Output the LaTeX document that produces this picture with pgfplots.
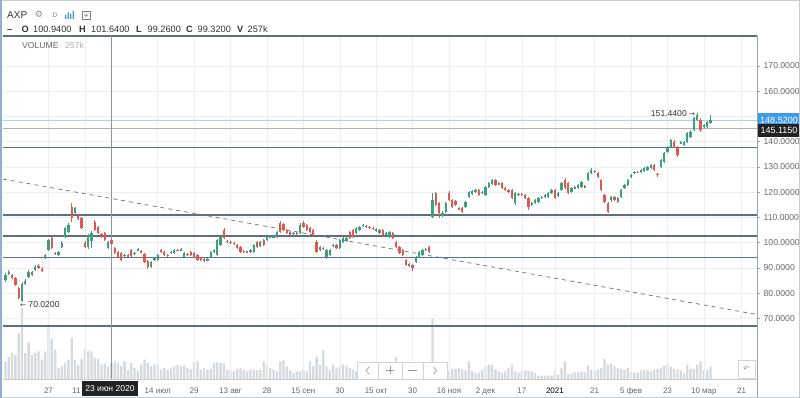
\documentclass[border=0pt]{standalone}
\usepackage{pgfplots}
\pgfplotsset{compat=1.18}
\usepackage{pgfplotstable}
\usepackage{fontspec}
\setmainfont{Liberation Sans}
\newfontfamily\dejavu{DejaVu Sans}
\definecolor{upc}{HTML}{3E9F7D}
\definecolor{downc}{HTML}{DF5A4E}
\definecolor{volc}{HTML}{D5DADF}
\definecolor{gridc}{HTML}{ECEFF2}
\definecolor{hlinec}{HTML}{5C7080}
\definecolor{trendc}{HTML}{6E6E6E}
\definecolor{pblue}{HTML}{A8D4EC}
\definecolor{pgray}{HTML}{B0B0B0}
\definecolor{labc}{HTML}{666666}
\definecolor{axisgray}{HTML}{9AA3AB}
\definecolor{crossc}{HTML}{8C959D}
\definecolor{bluebox}{HTML}{3D9BE9}
\definecolor{blackbox}{HTML}{222222}
\definecolor{navc}{HTML}{CFD4D8}
\definecolor{framec}{HTML}{C5CDD4}
\definecolor{leftc}{HTML}{8FB0D0}
\definecolor{txtc}{HTML}{333333}

\pgfplotstableread{
i o h l c v
-13 85.2 88.0 84.4 87.2 283
-12 87.4 89.2 87.0 88.4 352
-11 87.2 87.6 85.6 86.0 416
-10 86.0 86.4 82.8 83.2 384
-9 82.0 82.4 77.5 78.1 736
-8 76.9 84.4 76.5 83.6 1136
-7 83.6 85.6 83.2 84.8 416
-6 86.4 89.0 85.8 88.4 587
-5 88.4 88.8 86.8 87.2 384
-4 89.2 91.0 88.9 90.2 416
-3 90.6 91.4 89.6 90.2 443
-2 89.6 90.2 88.2 88.6 309
-1 94.0 95.5 93.5 95.1 443
0 97.1 101.5 96.5 101.0 848
1 101.8 102.2 97.5 97.9 640
2 95.9 96.3 95.1 95.5 464
3 95.1 96.8 94.6 96.3 176
4 98.3 100.5 97.9 99.9 203
5 102.2 106.2 101.8 105.8 256
6 104.2 107.6 103.8 107.0 309
7 114.1 115.7 108.2 109.8 656
8 111.8 114.1 111.4 113.7 309
9 110.6 111.2 108.8 109.4 229
10 109.8 110.2 105.4 105.8 320
11 99.9 100.5 97.9 98.3 469
12 98.3 103.6 97.5 103.0 443
13 100.5 104.6 97.9 103.8 443
14 108.2 108.8 104.6 105.0 336
15 106.2 106.6 103.4 103.8 320
16 103.4 104.0 102.0 102.6 229
17 103.8 104.2 100.6 101.0 245
18 97.9 100.8 97.5 100.3 203
19 100.94 101.64 99.26 99.32 257
20 97.9 98.3 95.5 95.9 283
21 96.3 96.7 93.9 94.3 256
22 95.9 96.3 92.7 93.1 203
23 94.7 95.5 94.3 95.1 283
24 95.1 95.5 94.1 94.5 149
25 96.9 97.3 94.1 94.5 256
26 95.5 96.3 95.1 95.9 176
27 96.9 97.7 96.5 97.3 133
28 96.5 96.9 95.7 96.1 229
29 95.5 95.9 91.9 92.3 309
30 92.7 93.1 89.6 90.3 256
31 90.3 92.7 89.9 92.3 203
32 93.1 94.3 92.7 93.9 229
33 93.1 95.5 92.7 95.1 229
34 97.1 97.5 95.9 96.3 149
35 96.3 96.7 94.7 95.1 176
36 95.1 95.5 94.3 94.7 149
37 95.9 96.7 95.5 96.3 176
38 95.9 97.5 95.5 97.1 203
39 97.1 97.5 96.5 96.8 229
40 96.9 97.7 96.5 97.3 203
41 94.3 96.3 93.9 95.9 213
42 95.5 95.9 94.7 95.1 176
43 96.3 96.7 94.7 95.1 160
44 95.9 96.3 93.9 94.3 272
45 95.1 95.5 92.7 93.1 283
46 93.9 94.3 92.7 93.1 149
47 93.5 94.0 92.5 93.1 176
48 93.1 93.9 92.7 93.5 149
49 94.3 96.5 93.9 96.1 160
50 96.1 97.3 95.7 96.9 256
51 95.1 101.4 94.7 101.0 267
52 99.1 102.6 98.7 102.2 256
53 105.0 105.8 101.4 101.8 245
54 100.7 101.0 100.0 100.3 149
55 100.3 100.7 99.5 99.9 149
56 99.9 100.3 99.1 99.5 123
57 99.1 99.5 97.5 97.9 160
58 98.3 98.7 95.9 96.3 176
59 96.7 97.1 95.9 96.3 149
60 96.5 96.7 95.7 96.1 123
61 96.1 97.5 95.7 97.1 149
62 96.3 99.5 95.9 99.1 149
63 100.3 100.7 97.9 98.3 139
64 98.7 100.7 98.3 100.3 149
65 101.0 101.4 98.7 99.1 283
66 101.0 102.6 100.6 102.2 229
67 102.2 102.8 101.8 102.5 176
68 102.2 103.0 101.8 102.6 149
69 102.4 104.6 102.0 104.2 123
70 107.8 108.4 103.8 104.2 283
71 107.4 107.8 104.6 105.0 299
72 105.0 105.4 103.4 103.8 203
73 104.2 104.6 102.6 103.0 139
74 103.6 104.2 103.0 103.9 96
75 103.9 104.2 103.0 103.5 123
76 103.8 107.8 103.4 107.0 123
77 107.8 108.6 105.8 106.2 149
78 107.0 107.4 104.6 105.0 123
79 105.8 106.2 103.8 104.2 283
80 105.0 105.4 102.6 103.0 203
81 100.3 101.0 95.9 96.3 352
82 97.1 98.7 96.7 98.3 229
83 97.9 98.3 97.1 97.5 464
84 94.3 97.5 93.5 97.1 203
85 95.1 97.5 94.7 97.1 149
86 98.7 99.5 98.3 99.1 229
87 99.1 99.5 97.5 97.9 176
88 97.9 101.4 97.5 101.0 203
89 100.3 102.2 99.9 101.8 229
90 100.6 102.4 100.2 102.0 213
91 104.2 104.6 101.4 101.8 176
92 105.0 105.4 101.8 102.2 149
93 103.8 106.2 103.4 105.8 123
94 105.0 106.6 104.6 106.2 160
95 106.6 107.4 106.2 107.0 176
96 106.6 107.0 105.8 106.2 144
97 106.2 106.6 105.4 105.8 160
98 105.8 106.2 105.0 105.4 150
99 105.4 105.8 104.2 104.6 170
100 103.8 105.4 103.4 105.0 160
101 105.0 105.4 102.6 103.0 190
102 103.4 104.2 103.0 103.8 150
103 102.2 104.6 101.8 104.2 180
104 103.8 104.2 101.4 101.8 200
105 100.3 100.7 97.9 98.3 352
106 98.3 98.7 95.5 95.9 220
107 97.1 97.5 94.7 95.1 240
108 93.1 93.5 90.7 91.1 230
109 91.1 92.0 90.3 91.5 190
110 91.1 91.5 88.8 89.9 200
111 92.3 94.7 91.9 94.3 210
112 94.3 96.7 93.9 96.3 180
113 95.1 97.5 94.7 97.1 170
114 97.1 97.9 96.7 97.5 160
115 98.3 98.7 95.9 96.3 190
116 110.2 119.7 109.8 116.9 976
117 119.7 120.1 114.5 114.9 240
118 115.7 116.1 109.8 111.7 208
119 110.6 112.5 110.2 111.7 192
120 112.1 116.1 111.7 115.7 176
121 119.7 120.5 116.5 116.9 123
122 116.9 117.3 113.7 114.1 160
123 116.5 116.9 114.5 114.9 160
124 113.7 114.1 112.9 113.3 176
125 113.7 114.1 111.7 112.1 160
126 114.1 116.5 113.7 116.1 133
127 118.1 120.5 117.7 120.1 283
128 119.3 120.9 118.9 120.5 128
129 120.1 121.2 119.7 120.9 96
130 120.9 121.2 118.5 118.9 101
131 119.7 120.5 119.3 120.1 149
132 118.9 122.4 118.5 122.0 192
133 122.0 124.0 121.6 123.6 229
134 123.2 125.2 122.8 124.8 229
135 124.8 125.2 122.4 122.8 149
136 123.2 124.0 122.8 123.6 123
137 123.6 124.0 121.2 121.6 96
138 121.6 122.0 120.5 120.9 123
139 120.9 121.2 119.7 120.1 176
140 120.9 121.2 117.3 117.7 229
141 115.7 120.1 114.9 119.7 123
142 118.9 119.7 118.5 119.3 107
143 119.3 119.7 118.5 118.9 123
144 118.9 119.3 117.3 117.7 133
145 117.7 118.1 112.9 114.1 133
146 114.9 116.1 114.5 115.7 123
147 115.7 117.3 115.3 116.9 96
148 116.1 118.1 115.7 117.7 53
149 117.7 118.5 117.3 118.1 53
150 118.1 119.3 117.7 118.9 53
151 118.1 120.1 117.7 119.7 53
152 119.7 121.2 119.3 120.9 53
153 120.9 121.2 117.3 117.7 123
154 118.5 120.1 118.1 119.7 69
155 120.9 124.0 120.5 123.6 176
156 124.8 125.6 121.2 121.6 283
157 123.6 124.0 119.3 119.7 85
158 120.1 122.0 119.7 121.6 85
159 121.6 122.4 121.2 122.0 107
160 121.6 123.2 121.2 122.8 107
161 122.0 124.4 121.6 124.0 123
162 122.4 122.8 121.6 122.0 107
163 124.8 128.0 124.4 127.6 213
164 127.6 129.4 127.2 128.8 149
165 128.0 128.8 127.6 128.4 139
166 127.6 128.0 125.6 126.0 149
167 124.8 125.2 120.5 120.9 176
168 118.9 119.3 115.7 116.1 320
169 115.7 116.1 111.7 112.1 229
170 116.9 118.5 116.1 118.1 245
171 118.1 118.5 116.5 116.9 203
172 116.1 118.1 115.7 117.7 176
173 118.1 121.2 117.7 120.9 160
174 121.6 123.2 121.2 122.8 149
175 122.8 125.2 122.4 124.8 176
176 126.0 127.2 125.6 126.8 123
177 127.6 128.4 127.2 128.0 96
178 128.0 128.4 127.4 127.6 107
179 128.0 129.2 127.6 128.8 133
180 128.4 130.0 128.0 129.6 149
181 128.8 130.4 128.4 130.0 139
182 129.6 131.2 129.2 130.8 123
183 130.8 131.2 128.4 128.8 149
184 127.2 127.6 126.0 126.8 160
185 130.0 133.2 129.6 132.8 176
186 132.0 135.9 131.6 135.5 213
187 135.9 138.3 135.5 137.9 245
188 137.9 141.1 137.5 140.7 192
189 139.9 140.7 137.5 137.9 160
190 137.9 138.3 133.9 134.7 149
191 139.3 140.1 138.9 139.7 139
192 138.7 140.3 138.3 139.9 96
193 139.9 143.9 139.5 143.5 229
194 141.9 144.6 141.5 143.9 160
195 144.6 149.8 144.2 149.4 160
196 148.6 151.44 148.2 150.6 229
197 148.6 149.4 143.9 144.6 283
198 145.8 147.2 145.4 146.8 139
199 146.0 148.2 145.6 147.8 149
200 147.4 150.6 147.0 148.52 192
}\candles

\pgfplotsset{candle/.style={only marks, mark=*, mark size=0pt,
  mark options={draw=none, fill=none}, restrict y to domain=0:1000}}

\begin{document}
\begin{tikzpicture}[x=1pt,y=1pt]
\useasboundingbox (0,0) rectangle (800,398);
\fill[white] (0,0) rectangle (800,398);

% ---------- volume pane ----------
\begin{axis}[at={(3pt,19pt)}, anchor=south west, scale only axis,
  width=754pt, height=343pt,
  xmin=-13.746, xmax=214.05, ymin=0, ymax=5488, hide axis, clip=false]
\addplot[ybar, bar width=2.3pt, fill=volc, draw=none] table[x=i,y=v]{\candles};
\end{axis}

% ---------- price pane ----------
\begin{axis}[at={(3pt,19pt)}, anchor=south west, scale only axis,
  width=754pt, height=343pt,
  xmin=-13.746, xmax=214.05, ymin=45.94, ymax=181.89, clip=false,
  axis line style={draw=none},
  ytick={70,80,...,170},
  yticklabels={70.0000,80.0000,90.0000,100.0000,110.0000,120.0000,130.0000,140.0000,150.0000,160.0000,170.0000},
  yticklabel pos=right, ytick pos=right,
  tick align=outside, major tick length=3pt,
  ytick style={draw=axisgray, line width=0.5pt},
  yticklabel style={font=\fontsize{8.6}{10}\selectfont, text=labc, anchor=west, inner sep=0pt, xshift=3.5pt},
  xtick={0,11,33,44,55,66,77,88,99,110,121,132,143,153,165,176,187,198,209.4},
  xticklabels={27,11 июн,14 июл,29,13 авг,28,15 сен,30,15 окт,30,16 ноя,2 дек,17,\textcolor{black}{2021},21,5 фев,23,10 мар,21},
  xtick style={draw=none},
  xticklabel style={font=\fontsize{8}{9.6}\selectfont, text=labc, anchor=base, inner sep=0pt, yshift=-12pt},
  grid=major, grid style={draw=gridc, line width=0.5pt},
]
% drawn horizontal levels
\addplot[hlinec, line width=1.1pt] coordinates {(-13.746,181.89) (214.05,181.89)};
\addplot[hlinec, line width=1.1pt] coordinates {(-13.746,137.78) (214.05,137.78)};
\addplot[hlinec, line width=1.1pt] coordinates {(-13.746,110.95) (214.05,110.95)};
\addplot[hlinec, line width=1.1pt] coordinates {(-13.746,102.62) (214.05,102.62)};
\addplot[hlinec, line width=1.1pt] coordinates {(-13.746,94.18) (214.05,94.18)};
\addplot[hlinec, line width=1.1pt] coordinates {(-13.746,66.95) (214.05,66.95)};
% price lines
\addplot[pblue, line width=0.6pt] coordinates {(-13.746,148.52) (214.05,148.52)};
\addplot[pgray, line width=0.6pt] coordinates {(-13.746,145.115) (214.05,145.115)};
% trend line
\addplot[trendc, line width=0.7pt, dash pattern=on 4pt off 4pt] coordinates {(-13.746,125.2) (214.05,71.5)};
% crosshair
\addplot[crossc, line width=0.6pt] coordinates {(19,45.94) (19,181.89)};

% wicks
\addplot[candle,
  error bars/.cd, y dir=both, y explicit, error mark=none,
  error bar style={line width=0.7pt, draw=upc}]
  table[x=i, y expr={\thisrow{c}>=\thisrow{o} ? (\thisrow{h}+\thisrow{l})/2 : -1000},
        y error expr={(\thisrow{h}-\thisrow{l})/2}]{\candles};
\addplot[candle,
  error bars/.cd, y dir=both, y explicit, error mark=none,
  error bar style={line width=0.7pt, draw=downc}]
  table[x=i, y expr={\thisrow{c}<\thisrow{o} ? (\thisrow{h}+\thisrow{l})/2 : -1000},
        y error expr={(\thisrow{h}-\thisrow{l})/2}]{\candles};
% bodies
\addplot[candle,
  error bars/.cd, y dir=both, y explicit, error mark=none,
  error bar style={line width=2.3pt, draw=upc}]
  table[x=i, y expr={\thisrow{c}>=\thisrow{o} ? (\thisrow{o}+\thisrow{c})/2 : -1000},
        y error expr={abs(\thisrow{c}-\thisrow{o})/2}]{\candles};
\addplot[candle,
  error bars/.cd, y dir=both, y explicit, error mark=none,
  error bar style={line width=2.3pt, draw=downc}]
  table[x=i, y expr={\thisrow{c}<\thisrow{o} ? (\thisrow{o}+\thisrow{c})/2 : -1000},
        y error expr={abs(\thisrow{c}-\thisrow{o})/2}]{\candles};

% annotations
\node[anchor=east, inner sep=0pt, font=\fontsize{8.6}{10}\selectfont, text=txtc, xshift=-2pt]
  at (axis cs:196,151.3) {151.4400 {\dejavu\fontsize{7}{8}\selectfont →}};
\node[anchor=west, inner sep=0pt, font=\fontsize{8.6}{10}\selectfont, text=txtc, xshift=-2pt]
  at (axis cs:-8,75.3) {{\dejavu\fontsize{7}{8}\selectfont ←} 70.0200};
\end{axis}

% axis borders
\draw[axisgray, line width=0.6pt] (757,0) -- (757,362);
\draw[gridc!70!gray, line width=0.4pt] (3,18.5) -- (757,18.5);

% crosshair date label
\node[fill=blackbox, text=white, inner xsep=3.5pt, inner ysep=0pt, minimum height=15pt,
  font=\fontsize{8.6}{10}\selectfont] at (110,9.5) {23 июн 2020};

% price boxes
\fill[bluebox] (757.5,270) rectangle (800,285);
\node[text=white, font=\fontsize{9}{10}\selectfont, inner sep=0pt] at (779,277.5) {148.5200};
\fill[blackbox] (758,261) rectangle (800,274);
\node[text=white, font=\fontsize{9}{10}\selectfont, inner sep=0pt] at (779,267.5) {145.1150};

% navigation box
\draw[navc, fill=white, line width=0.6pt] (357,19) rectangle (447,36);
\draw[navc, line width=0.6pt] (378,19) -- (378,36) (402,19) -- (402,36) (423,19) -- (423,36);
\draw[gray!80, line width=0.6pt] (369,31) -- (366,27.5) -- (369,24);
\draw[gray!80, line width=0.6pt] (386,27.5) -- (394,27.5) (390,23.5) -- (390,31.5);
\draw[gray!80, line width=0.6pt] (408,27.5) -- (417,27.5);
\draw[gray!80, line width=0.6pt] (433.5,31) -- (436.5,27.5) -- (433.5,24);

% undo button
\draw[navc, fill=white, line width=0.6pt] (738,20) rectangle (755,38);
\node[text=gray!80, font=\dejavu\fontsize{8}{9}\selectfont, inner sep=0pt] at (746.5,29) {↶};

% header
\node[anchor=base west, inner sep=0pt, text=txtc, font=\fontsize{10}{12}\selectfont] at (7,379) {AXP};
\node[inner sep=0pt, text=gray!90, font=\dejavu\fontsize{9}{10}\selectfont] at (39,384) {⚙};
\node[anchor=base west, inner sep=0pt, text=gray, font=\fontsize{6.5}{8}\selectfont] at (52.5,380) {D};
\fill[bluebox] (65,379) rectangle (66.3,383) (67.5,379) rectangle (68.8,385.5)
  (70,379) rectangle (71.3,384) (72.5,379) rectangle (73.8,387);
\draw[gray, line width=0.5pt] (82,379) rectangle (90,387);
\draw[gray, line width=0.5pt] (84,383.5) -- (86,381.5) -- (88,383.5) (86,381.5) -- (86,386);

\begin{scope}[every node/.style={anchor=base west, inner sep=0pt, text=txtc, font=\fontsize{9.2}{11}\selectfont}]
\node at (7,365) {\textbf{–}};
\node at (21.5,365) {\textbf{O}};
\node at (33,365) {100.9400};
\node at (79,365) {\textbf{H}};
\node at (91,365) {101.6400};
\node at (136,365) {\textbf{L}};
\node at (147.5,365) {99.2600};
\node at (186,365) {\textbf{C}};
\node at (197.5,365) {99.3200};
\node at (237,365) {\textbf{V}};
\node at (247.5,365) {257k};
\end{scope}
\node[anchor=base west, inner sep=0pt, text=labc, font=\fontsize{8.6}{10}\selectfont] at (22,349) {VOLUME};
\node[anchor=base west, inner sep=0pt, text=gray!60, font=\fontsize{8.6}{10}\selectfont] at (65,349) {257k};

% frame
\draw[framec, line width=1pt] (0.5,0.5) rectangle (799.5,397.5);
\draw[leftc, line width=2pt] (1,0) -- (1,398);
\end{tikzpicture}
\end{document}
